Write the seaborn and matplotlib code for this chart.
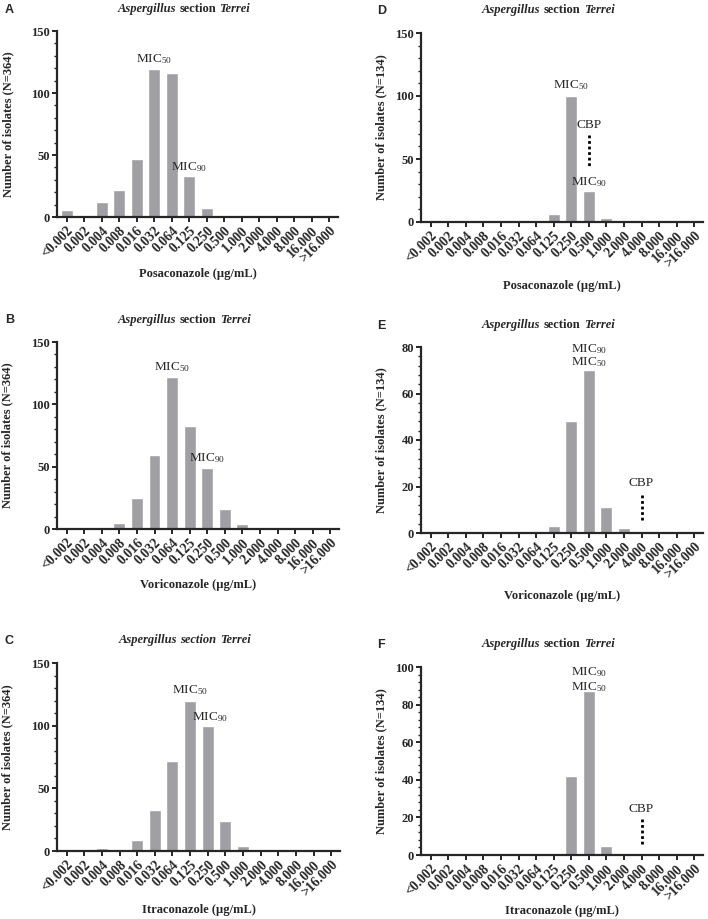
import numpy as np
import pandas as pd
import matplotlib
matplotlib.use('Agg')
import matplotlib.pyplot as plt
from matplotlib.ticker import AutoMinorLocator, MultipleLocator
import seaborn as sns

# MIC categories (µg/mL)
mic_labels = ['<0.002', '0.002', '0.004', '0.008', '0.016', '0.032', '0.064', '0.125',
              '0.250', '0.500', '1.000', '2.000', '4.000', '8.000', '16.000', '>16.000']

# counts
posa_364 = [6, 2, 12, 22, 47, 119, 116, 33, 7, 0, 0, 0, 0, 0, 0, 0]
vori_364 = [0, 0, 0, 5, 25, 59, 122, 83, 49, 16, 4, 1, 0, 0, 0, 0]
itra_364 = [0, 0, 2, 0, 9, 33, 72, 120, 100, 24, 4, 0, 0, 0, 0, 0]
posa_134 = [0, 0, 0, 0, 0, 0, 0, 6, 100, 25, 3, 0, 0, 0, 0, 0]
vori_134 = [0, 0, 0, 0, 0, 0, 0, 3, 48, 70, 11, 2, 0, 0, 0, 0]
itra_134 = [0, 0, 0, 0, 0, 0, 0, 0, 42, 87, 5, 0, 0, 0, 0, 0]

drugs = ['Posaconazole', 'Voriconazole', 'Itraconazole']

sns.set_style('ticks')
plt.rcParams['font.family'] = ['Liberation Serif', 'DejaVu Serif']
plt.rcParams['mathtext.fontset'] = 'custom'
plt.rcParams['mathtext.rm'] = 'Liberation Serif'
plt.rcParams['mathtext.it'] = 'Liberation Serif:italic'

W, H = 708, 919
fig = plt.figure(figsize=(W / 100, H / 100), dpi=100)
fig.patch.set_facecolor('white')

BAR = '#a0a0a4'


def px_axes(l, t, r, b):
    return fig.add_axes([l / W, 1 - b / H, (r - l) / W, (b - t) / H])


def title(ax, all_italic=False):
    y = 1.12
    mid = ax.text(0.5, y, 'section', transform=ax.transAxes, ha='center', va='center',
                  fontsize=9, fontweight='bold', style='italic' if all_italic else 'normal')
    ax.annotate('Aspergillus', xy=(0, 0.5), xycoords=mid, xytext=(-2.5, 0),
                textcoords='offset points', ha='right', va='center',
                fontsize=9, fontweight='bold', style='italic')
    ax.annotate('Terrei', xy=(1, 0.5), xycoords=mid, xytext=(2.5, 0),
                textcoords='offset points', ha='left', va='center',
                fontsize=9, fontweight='bold', style='italic')


def panel(ax, counts, drug, n, ymax, ystep, letter, ylab_off, xlab_off, all_italic=False):
    sns.barplot(x=mic_labels, y=counts, ax=ax, color=BAR, saturation=1, width=0.68)
    ax.set_xlim(-0.55, 15.5)
    ax.set_ylim(0, ymax)
    ax.yaxis.set_major_locator(MultipleLocator(ystep))
    ax.yaxis.set_minor_locator(AutoMinorLocator(5))
    sns.despine(ax=ax)
    for s in ['left', 'bottom']:
        ax.spines[s].set_linewidth(1.6)
    ax.tick_params(axis='both', which='major', length=3.5, width=1.4, labelsize=9, pad=1.5)
    ax.tick_params(axis='y', which='minor', length=2, width=1.0)
    ax.set_xticks(range(len(mic_labels)))
    ax.set_xticklabels(mic_labels, rotation=45, ha='right', rotation_mode='anchor',
                       fontweight='bold', fontsize=9.8)
    for lab in ax.get_yticklabels():
        lab.set_fontweight('bold')
    ax.set_xlabel('')
    ax.set_ylabel('')
    ax.text(0.5, xlab_off, f'{drug} (µg/mL)', transform=ax.transAxes, ha='center',
            va='center', fontsize=9, fontweight='bold')
    ax.text(ylab_off, 0.5, f'Number of isolates (N={n})', transform=ax.transAxes,
            ha='center', va='center', rotation=90, fontsize=9, fontweight='bold')
    title(ax, all_italic)
    ax.text(-0.185 if letter in 'ABC' else -0.155, 1.115, letter, transform=ax.transAxes,
            ha='left', va='center', fontsize=9, fontweight='bold', family='Liberation Sans')


def mic(ax, x, y, s):
    ax.text(x, y, s, ha='center', va='center', fontsize=9.5)


def cbp(ax, x, ytext, y0, y1):
    ax.text(x, ytext, 'CBP', ha='center', va='center', fontsize=9.5)
    ax.plot([x, x], [y0, y1], color='black', lw=2, ls=(0, (1, 1)))


# left column (N=364)
axA = px_axes(57, 31, 338, 217)
panel(axA, posa_364, drugs[0], 364, 150, 50, 'A', -0.175, -0.305)
mic(axA, 5, 127, 'MIC$_{50}$')
mic(axA, 7, 40, 'MIC$_{90}$')

axB = px_axes(57, 342, 339, 529)
panel(axB, vori_364, drugs[1], 364, 150, 50, 'B', -0.175, -0.30)
mic(axB, 6, 130, 'MIC$_{50}$')
mic(axB, 8, 57, 'MIC$_{90}$')

axC = px_axes(57, 663, 340, 851)
panel(axC, itra_364, drugs[2], 364, 150, 50, 'C', -0.175, -0.315, all_italic=True)
mic(axC, 7, 128, 'MIC$_{50}$')
mic(axC, 8.15, 107, 'MIC$_{90}$')

# right column (N=134)
axD = px_axes(421, 33, 703, 222)
panel(axD, posa_134, drugs[0], 134, 150, 50, 'D', -0.14, -0.34)
mic(axD, 8, 109, 'MIC$_{50}$')
cbp(axD, 9, 77, 69, 44)
mic(axD, 9, 32, 'MIC$_{90}$')

axE = px_axes(421, 347, 703, 533)
panel(axE, vori_134, drugs[1], 134, 80, 20, 'E', -0.14, -0.34)
mic(axE, 9, 73.5, 'MIC$_{50}$')
mic(axE, 9, 79.0, 'MIC$_{90}$')
cbp(axE, 12, 21.5, 16.5, 5.5)

axF = px_axes(421, 667, 703, 855)
panel(axF, itra_134, drugs[2], 134, 100, 20, 'F', -0.14, -0.30)
mic(axF, 9, 89.5, 'MIC$_{50}$')
mic(axF, 9, 97.5, 'MIC$_{90}$')
cbp(axF, 12, 24.5, 19, 5)

fig.savefig('out.png', dpi=100, facecolor='white')
